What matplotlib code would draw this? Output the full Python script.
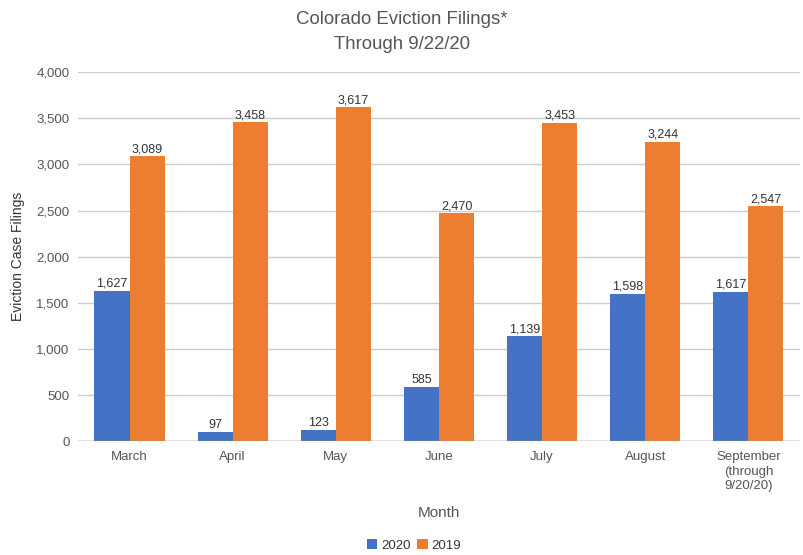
import numpy as np
import matplotlib
matplotlib.use('Agg')
import matplotlib.pyplot as plt

plt.rcParams['font.family'] = ['Liberation Sans', 'DejaVu Sans']

# data
months = ['March', 'April', 'May', 'June', 'July', 'August',
          'September\n(through\n9/20/20)']
filings_2020 = [1627, 97, 123, 585, 1139, 1598, 1617]
filings_2019 = [3089, 3458, 3617, 2470, 3453, 3244, 2547]

blue = '#4472c4'
orange = '#ed7d31'
txt = '#555555'

fig = plt.figure(figsize=(8.04, 5.55), dpi=100)
ax = fig.add_axes([0.097, 0.205, 0.898, 0.665])

x = np.arange(len(months))
w = 0.34
b1 = ax.bar(x - w / 2, filings_2020, w, color=blue, label='2020', zorder=3)
b2 = ax.bar(x + w / 2, filings_2019, w, color=orange, label='2019', zorder=3)

for bars, vals in ((b1, filings_2020), (b2, filings_2019)):
    for r, v in zip(bars, vals):
        ax.text(r.get_x() + r.get_width() / 2, v + 12, f'{v:,}',
                ha='center', va='bottom', fontsize=9, color='#333333')

ax.set_xlim(-0.5, len(months) - 0.5)
ax.set_ylim(0, 4000)
ax.set_yticks(np.arange(0, 4001, 500))
ax.set_yticklabels([f'{t:,}' for t in range(0, 4001, 500)])
ax.set_xticks(x)
ax.set_xticklabels(months, linespacing=1.3)
ax.tick_params(axis='both', length=0, labelsize=9.5, colors=txt)
ax.tick_params(axis='x', pad=7)
ax.tick_params(axis='y', pad=6)
ax.grid(axis='y', color='#cccccc', linewidth=1, zorder=0)
for s in ax.spines.values():
    s.set_visible(False)
ax.axhline(0, color='#999999', linewidth=1, zorder=4)

ax.set_ylabel('Eviction Case Filings', fontsize=10, color='#333333', labelpad=8)
ax.set_xlabel('Month', fontsize=11, color='#555555', labelpad=10)
fig.text(0.5, 0.943, 'Colorado Eviction Filings*\nThrough 9/22/20', ha='center',
         va='center', fontsize=13.4, color='#555555', linespacing=1.6)

fig.legend(handles=[b1, b2], loc='center', bbox_to_anchor=(0.515, 0.017),
           ncol=2, frameon=False, fontsize=9.5, handlelength=0.8,
           handleheight=0.8, handletextpad=0.3, columnspacing=0.5,
           labelcolor='#333333')

fig.savefig('out.png', dpi=100)
